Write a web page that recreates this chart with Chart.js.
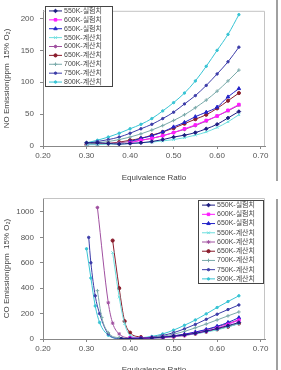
<!DOCTYPE html>
<html>
<head>
<meta charset="utf-8">
<script src="https://cdn.jsdelivr.net/npm/chart.js@4.4.0/dist/chart.umd.min.js"></script>
<style>
  html, body { margin: 0; padding: 0; background: #fff; overflow: hidden; width: 281px; height: 370px; }
  .box { position: absolute; left: 0; width: 281px; }
  #top { top: 0; height: 185px; }
  #bot { top: 185px; height: 192px; }
  .rule { position: absolute; left: 276px; width: 2px; background: #a0a0a0; }
</style>
</head>
<body>
<div class="box" id="top"><canvas id="noChart"></canvas></div>
<div class="box" id="bot"><canvas id="coChart"></canvas></div>
<div class="rule" style="top:0;height:181px"></div>
<div class="rule" style="top:199px;height:171px"></div>
<script>
const LABELS = ['550K-실험치', '600K-실험치', '650K-실험치', '550K-계산치', '600K-계산치',
                '650K-계산치', '700K-계산치', '750K-계산치', '800K-계산치'];

// NO chart
const phiNO = [0.30, 0.325, 0.35, 0.375, 0.40, 0.425, 0.45, 0.475, 0.50, 0.525, 0.55, 0.575, 0.60, 0.625, 0.65];
const phiNOexp = [0.40, 0.425, 0.45, 0.475, 0.50, 0.525, 0.55, 0.575, 0.60, 0.625, 0.65];
const no550exp = [5, 5, 4, 3, 4, 5, 7, 10, 14, 17, 21, 27, 34, 44, 54];
const no600exp = [5, 9, 12, 16, 21, 27, 33, 40, 47, 56, 65];
const no650exp = [7, 12, 16, 22, 30, 37, 46, 53, 61, 77, 90];
const no550calc = [2, 2, 3, 3, 4, 5, 6, 8, 10, 13, 17, 22, 29, 38, 49];
const no600calc = [2, 3, 4, 5, 7, 9, 12, 16, 21, 26, 32, 39, 47, 55, 64];
const no650calc = [2, 3, 4, 6, 9, 12, 17, 22, 28, 35, 42, 49, 59, 71, 83];
const no700calc = [3, 5, 7, 10, 14, 19, 25, 32, 40, 49, 60, 72, 86, 102, 119];
const no750calc = [4, 7, 10, 14, 20, 27, 34, 43, 53, 66, 79, 95, 113, 132, 155];
const no800calc = [5, 9, 14, 20, 27, 34, 43, 55, 68, 83, 102, 125, 150, 175, 206];

// CO chart
const phiRich = [0.40, 0.425, 0.45, 0.475, 0.50, 0.525, 0.55, 0.575, 0.60, 0.625, 0.65];
const phiCO550exp = [0.38, ...phiRich];
const co550exp = [2, 4, 6, 9, 14, 22, 32, 45, 62, 82, 105, 130];
const co600exp = [8, 6, 8, 12, 20, 30, 45, 62, 85, 115, 148];
const co650exp = [6, 5, 9, 15, 25, 38, 55, 75, 100, 130, 168];
const phiCO550calc = [0.36, 0.375, 0.3875, ...phiRich];
const co550calc = [680, 330, 120, 30, 8, 6, 10, 18, 28, 40, 55, 72, 95, 120];
const phiCO600calc = [0.325, 0.35, 0.36, 0.375, ...phiRich];
const co600calc = [1035, 285, 125, 40, 8, 5, 8, 14, 24, 36, 52, 72, 95, 122, 152];
const phiCO650calc = [0.36, 0.375, 0.3875, ...phiRich];
const co650calc = [775, 400, 140, 50, 15, 8, 10, 18, 28, 42, 58, 76, 97, 122];
const phiCO700calc = [0.325, 0.335, 0.35, 0.375, ...phiRich];
const co700calc = [380, 170, 50, 10, 5, 7, 12, 22, 38, 60, 88, 118, 150, 182, 213];
const phiCO750calc = [0.305, 0.31, 0.32, 0.33, 0.35, 0.375, ...phiRich];
const co750calc = [800, 600, 340, 200, 40, 5, 5, 8, 15, 28, 50, 80, 115, 155, 195, 232, 268];
const phiCO800calc = [0.30, 0.31, 0.32, 0.33, 0.35, 0.375, ...phiRich];
const co800calc = [710, 480, 260, 130, 30, 5, 5, 10, 20, 40, 70, 108, 150, 198, 248, 295, 340];

const xTicks = [0.20, 0.30, 0.40, 0.50, 0.60, 0.70];

const STYLE = [
  { c: '#1c1c80', p: 'rectRot', r: 1.8 },
  { c: '#ff1aff', p: 'rect', r: 1.8 },
  { c: '#2222c8', p: 'triangle', r: 2 },
  { c: '#6cdede', p: 'crossRot', r: 1.8 },
  { c: '#a050a0', p: 'star', r: 1.8 },
  { c: '#8a1c2c', p: 'circle', r: 1.6 },
  { c: '#7aaaaa', p: 'cross', r: 1.8 },
  { c: '#3c3ca8', p: 'circle', r: 1.2 },
  { c: '#38c4d4', p: 'circle', r: 1.2 },
];

Chart.defaults.font.family = '"Liberation Sans", "Noto Sans CJK KR", sans-serif';
Chart.defaults.font.size = 8;
Chart.defaults.color = '#555';

const pts = (xs, ys) => ys.map((y, i) => ({ x: xs[i], y }));

function makeSets(series) {
  return series.map((d, i) => ({
    label: LABELS[i],
    data: d,
    borderColor: STYLE[i].c,
    backgroundColor: STYLE[i].c,
    pointStyle: STYLE[i].p,
    pointRadius: STYLE[i].r,
    pointBorderWidth: 1,
    borderWidth: 1,
    cubicInterpolationMode: 'monotone',
  }));
}

const boxLegend = {
  id: 'boxLegend',
  afterDraw(chart, args, o) {
    const ctx = chart.ctx;
    const sets = chart.data.datasets;
    ctx.save();
    ctx.fillStyle = '#fff';
    ctx.fillRect(o.x, o.y, o.w, o.h);
    ctx.strokeStyle = '#444';
    ctx.lineWidth = 1;
    ctx.strokeRect(o.x + 0.5, o.y + 0.5, o.w, o.h);
    const row = o.h / sets.length;
    ctx.font = '7px "Liberation Sans", "Noto Sans CJK KR", sans-serif';
    ctx.textBaseline = 'middle';
    sets.forEach((ds, i) => {
      const cy = o.y + row * (i + 0.5) + 0.5;
      ctx.strokeStyle = ds.borderColor;
      ctx.fillStyle = ds.backgroundColor;
      ctx.lineWidth = 1;
      ctx.beginPath();
      ctx.moveTo(o.x + 4, cy);
      ctx.lineTo(o.x + 17, cy);
      ctx.stroke();
      Chart.helpers.drawPoint(ctx, { pointStyle: ds.pointStyle, radius: ds.pointRadius, borderWidth: 1, rotation: 0 }, o.x + 10.5, cy);
      ctx.fillStyle = '#444';
      ctx.fillText(ds.label, o.x + 19, cy, o.w - 21);
    });
    ctx.restore();
  }
};

const frame = {
  id: 'frame',
  beforeDatasetsDraw(chart) {
    const { ctx, chartArea: a } = chart;
    ctx.save();
    ctx.strokeStyle = '#c4c4c4';
    ctx.lineWidth = 1;
    ctx.beginPath();
    ctx.moveTo(a.left, a.top + 0.5);
    ctx.lineTo(a.right - 0.5, a.top + 0.5);
    ctx.lineTo(a.right - 0.5, a.bottom);
    ctx.stroke();
    ctx.restore();
  }
};

function makeChart(id, datasets, opt) {
  return new Chart(document.getElementById(id), {
    type: 'line',
    data: { datasets },
    plugins: [frame, boxLegend],
    options: {
      responsive: true,
      maintainAspectRatio: false,
      animation: false,
      layout: { padding: { left: 0, right: 16, top: opt.padTop, bottom: 0 } },
      plugins: {
        legend: { display: false },
        tooltip: { enabled: false },
        boxLegend: opt.legend,
      },
      scales: {
        x: {
          type: 'linear',
          min: 0.2,
          max: 0.71,
          afterBuildTicks: s => { s.ticks = xTicks.map(v => ({ value: v })); },
          afterFit: s => { s.height = opt.xHeight; },
          ticks: { callback: v => v.toFixed(2), padding: 2, maxRotation: 0, color: '#555' },
          grid: { drawOnChartArea: false, tickLength: 3, color: '#888' },
          border: { color: '#888' },
          title: { display: true, text: 'Equivalence Ratio', color: '#444', padding: { top: 2, bottom: 2 } },
        },
        y: {
          min: 0,
          max: opt.yMax,
          afterBuildTicks: s => { s.ticks = opt.yTicks.map(v => ({ value: v })); },
          afterFit: s => { s.width = 43; },
          ticks: { callback: v => String(v), padding: 6, color: '#555' },
          grid: { drawOnChartArea: false, tickLength: 3, color: '#888' },
          border: { color: '#888' },
          title: { display: true, text: opt.yTitle, color: '#444', padding: { top: 2, bottom: 2 } },
        },
      },
    },
  });
}

makeChart('noChart', makeSets([
  pts(phiNO, no550exp), pts(phiNOexp, no600exp), pts(phiNOexp, no650exp),
  pts(phiNO, no550calc), pts(phiNO, no600calc), pts(phiNO, no650calc),
  pts(phiNO, no700calc), pts(phiNO, no750calc), pts(phiNO, no800calc),
]), {
  padTop: 3, xHeight: 39, yMax: 212, yTicks: [0, 50, 100, 150, 200],
  yTitle: 'NO Emission(ppm  15% O₂)',
  legend: { x: 45, y: 6, w: 67, h: 80 },
});

makeChart('coChart', makeSets([
  pts(phiCO550exp, co550exp), pts(phiRich, co600exp), pts(phiRich, co650exp),
  pts(phiCO550calc, co550calc), pts(phiCO600calc, co600calc), pts(phiCO650calc, co650calc),
  pts(phiCO700calc, co700calc), pts(phiCO750calc, co750calc), pts(phiCO800calc, co800calc),
]), {
  padTop: 13, xHeight: 38, yMax: 1110, yTicks: [0, 200, 400, 600, 800, 1000],
  yTitle: 'CO Emission(ppm  15% O₂)',
  legend: { x: 198, y: 15, w: 65, h: 83 },
});
</script>
</body>
</html>
